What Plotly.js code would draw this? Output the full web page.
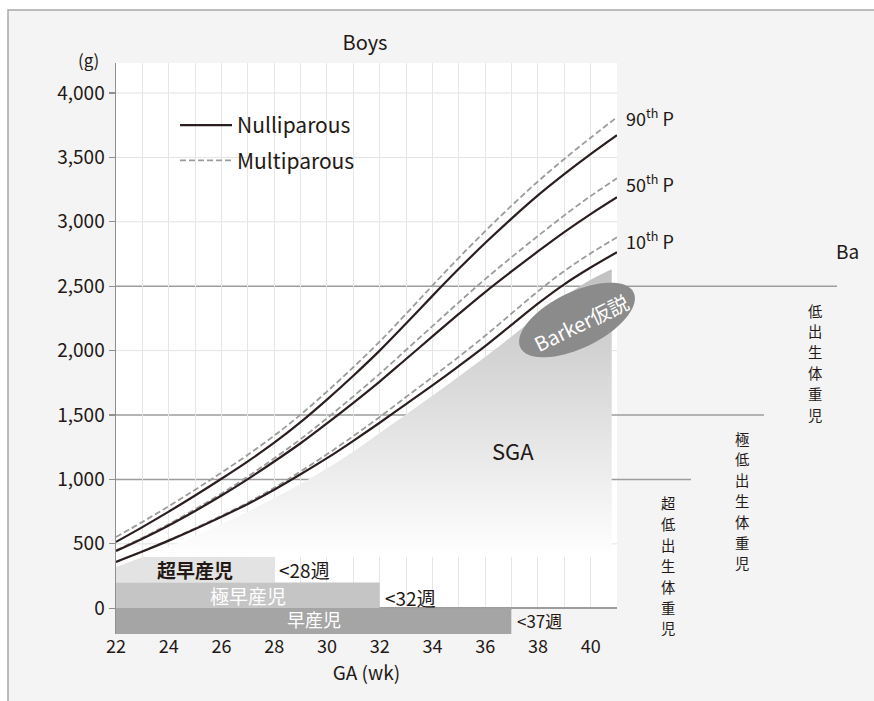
<!DOCTYPE html>
<html>
<head>
<meta charset="utf-8">
<script src="https://cdn.plot.ly/plotly-3.0.1.min.js"></script>
<style>html,body{margin:0;padding:0;background:#fff}#chart{width:874px;height:701px}</style>
</head>
<body>
<div id="chart"></div>
<script>
// ---------- data ----------
const weeks = [22,23,24,25,26,27,28,29,30,31,32,33,34,35,36,37,38,39,40,41];
const nulli90 = [515,630,750,875,1005,1140,1285,1445,1620,1805,2000,2210,2425,2635,2835,3025,3205,3370,3525,3672];
const nulli50 = [445,540,643,755,875,1003,1139,1281,1435,1595,1760,1935,2110,2285,2455,2615,2770,2920,3060,3191];
const nulli10 = [360,440,525,615,710,810,920,1040,1165,1300,1440,1585,1730,1880,2035,2200,2365,2515,2645,2764];
const multi90 = [553,670,792,920,1053,1191,1340,1503,1682,1871,2070,2285,2505,2721,2927,3125,3313,3488,3653,3812];
const multi50 = [450,547,653,768,891,1023,1164,1313,1475,1645,1820,2005,2190,2375,2555,2725,2890,3050,3200,3338];
const multi10 = [360,442,529,621,718,821,935,1062,1195,1337,1485,1640,1795,1952,2115,2288,2460,2618,2755,2880];

const sgaWeeks = [22,23,24,25,26,27,28,29,30,31,32,33,34,35,36,37,38,39,40,40.8];
const sgaTop   = [320,395,475,560,655,750,855,965,1085,1215,1360,1505,1650,1800,1950,2110,2270,2420,2550,2632];
const sgaFloor = 400;   // lower edge of the shaded SGA band (fades to white there)

const percentileLabels = ['90<sup>th</sup> P','50<sup>th</sup> P','10<sup>th</sup> P'];

const pretermLabels = ['超早産児','極早産児','早産児'];
const pretermEnd    = [28, 32, 37];
const pretermLow    = [200, 0, -200];
const pretermHigh   = [400, 200, 0];
const pretermLimitLabels = ['&lt;28週','&lt;32週','&lt;37週'];

const lbwLabels = ['低出生体重児','極低出生体重児','超低出生体重児'];
const lbwThresholds = [2500, 1500, 1000];

const yTicks = [0,500,1000,1500,2000,2500,3000,3500,4000];
const xTicks = [22,24,26,28,30,32,34,36,38,40];

// ---------- layout helpers (pixel geometry of the frame) ----------
const W = 874, H = 701;
const PL = 116, PR = 617, PT = 63, PB = 634;
const px2x = p => (p - PL) / (PR - PL);
const px2y = p => (PB - p) / (PB - PT);
const FONT = '"Noto Sans CJK JP", "Noto Sans", sans-serif';
const INK = '#231815';
const SOLID = '#2a1e1e';
const DASH = '#9c9c9c';

const traces = [];

// preterm bars
traces.push({
  type:'bar', orientation:'h',
  y: pretermLow.map((l,i)=> (l + pretermHigh[i]) / 2),
  x: pretermEnd.map(e => e - weeks[0]),
  base: weeks[0],
  width: pretermLow.map((l,i)=> pretermHigh[i] - l),
  marker:{color:['#e3e3e3','#c5c5c5','#a5a5a5'], line:{width:0}},
  hovertext: pretermLabels, hoverinfo:'text', showlegend:false
});

// SGA gradient band (floor trace + band filled down to it)
traces.push({
  type:'scatter', mode:'lines', x:[sgaWeeks[0], sgaWeeks[sgaWeeks.length-1]], y:[sgaFloor, sgaFloor],
  line:{width:0, color:'rgba(0,0,0,0)'}, hoverinfo:'skip', showlegend:false
});
traces.push({
  type:'scatter', mode:'lines', x:sgaWeeks, y:sgaTop, fill:'tonexty',
  line:{width:0, color:'rgba(0,0,0,0)', shape:'spline'},
  fillgradient:{type:'vertical', start:sgaFloor, stop:2650,
    colorscale:[[0,'#ffffff'],[1,'#c0c0c0']]},
  hoverinfo:'skip', showlegend:false
});

function curve(y, name, dashed, legend){
  return {
    type:'scatter', mode:'lines', x:weeks, y:y, name:name,
    line: dashed ? {color:DASH, width:1.8, dash:'6px,3px', shape:'spline'}
                 : {color:SOLID, width:2.2, shape:'spline'},
    showlegend: !!legend, legendgroup: dashed ? 'm' : 'n',
    legendrank: dashed ? 2 : 1,
    hoverinfo:'x+y+name'
  };
}
traces.push(curve(multi10,'Multiparous',true,false));
traces.push(curve(multi50,'Multiparous',true,false));
traces.push(curve(multi90,'Multiparous',true,true));
traces.push(curve(nulli10,'Nulliparous',false,false));
traces.push(curve(nulli50,'Nulliparous',false,false));
traces.push(curve(nulli90,'Nulliparous',false,true));

// ---------- shapes ----------
const shapes = [];
shapes.push({type:'rect', xref:'paper', yref:'paper', layer:'below',
  x0:px2x(8), x1:px2x(900), y0:px2y(720), y1:px2y(10),
  fillcolor:'#f4f4f4', line:{color:'#a8a8a8', width:1.5}});
shapes.push({type:'rect', xref:'paper', yref:'y', layer:'below',
  x0:0, x1:1, y0:0, y1:4233, fillcolor:'#ffffff', line:{width:0}});
yTicks.filter(v => v > 0 && lbwThresholds.indexOf(v) < 0).forEach(v => {
  shapes.push({type:'line', xref:'paper', yref:'y', layer:'below',
    x0:0, x1:1, y0:v, y1:v, line:{color:'#e3e3e3', width:1}});
});
const thresholdEndPx = [837, 764, 691];
lbwThresholds.forEach((v,i) => {
  shapes.push({type:'line', xref:'paper', yref:'y', layer:'below',
    x0:0, x1:px2x(thresholdEndPx[i]), y0:v, y1:v, line:{color:'#9d9d9d', width:1.5}});
});
shapes.push({type:'rect', xref:'x', yref:'y', layer:'above',
  x0:pretermEnd[2], x1:41, y0:-200, y1:-12, fillcolor:'#f4f4f4', line:{width:0}});
(function(){
  const cx = 577, cy = 320, a = 63, b = 28, phi = 26 * Math.PI / 180;
  let d = '';
  for (let k = 0; k <= 72; k++) {
    const t = k / 72 * 2 * Math.PI;
    const ex = a * Math.cos(t), ey = b * Math.sin(t);
    const px = cx + ex * Math.cos(phi) - ey * Math.sin(phi);
    const py = cy - (ex * Math.sin(phi) + ey * Math.cos(phi));
    d += (k === 0 ? 'M' : 'L') + px2x(px).toFixed(5) + ',' + px2y(py).toFixed(5);
  }
  d += 'Z';
  shapes.push({type:'path', xref:'paper', yref:'paper', layer:'above',
    path:d, fillcolor:'#8b8b8b', line:{width:0}});
})();

// ---------- annotations ----------
const ann = [];
function note(o){ return Object.assign({showarrow:false, xanchor:'center', yanchor:'middle'}, o); }
ann.push(note({xref:'paper', yref:'paper', x:px2x(88), y:px2y(59), text:'(g)', font:{size:17, color:INK}}));
[multi90, multi50, multi10].forEach((s,i) => {
  ann.push(note({xref:'x', yref:'y', x:41, y:s[s.length-1], xanchor:'left', xshift:7, yshift:[0,-5,-3][i],
    text:percentileLabels[i], font:{size:18, color:INK}}));
});
ann.push(note({xref:'paper', yref:'paper', x:px2x(834), y:px2y(250), xanchor:'left',
  text:'Ba', font:{size:19, color:INK}}));
ann.push(note({xref:'x', yref:'y', x:37.05, y:1227, text:'SGA', font:{size:22, color:INK}}));
ann.push(note({xref:'paper', yref:'paper', x:px2x(581), y:px2y(322), text:'Barker仮説',
  textangle:-26, font:{size:20, color:'#ffffff'}}));
const barTextColor = [INK, '#ffffff', '#ffffff'];
const barTextSize = [19, 19, 18];
pretermLabels.forEach((lab,i) => {
  const mid = (pretermLow[i] + pretermHigh[i]) / 2;
  ann.push(note({xref:'x', yref:'y', x:(weeks[0] + pretermEnd[i]) / 2, y:mid, yshift:[0,0,2][i],
    text: i === 0 ? '<b>' + lab + '</b>' : lab, font:{size:barTextSize[i], color:barTextColor[i]}}));
  ann.push(note({xref:'x', yref:'y', x:pretermEnd[i], y:mid, xanchor:'left', xshift:3, yshift:[0,-2,1][i],
    text:pretermLimitLabels[i], font:{size:[19,19,17][i], color:INK}}));
});
// vertical Japanese labels: one glyph per annotation, stacked
const lbwX = [815, 742, 668], lbwY0 = [310, 438, 503], lbwStep = 20.8;
lbwLabels.forEach((lab,i) => {
  Array.from(lab).forEach((ch,k) => {
    ann.push(note({xref:'paper', yref:'paper', x:px2x(lbwX[i]), y:px2y(lbwY0[i] + k * lbwStep),
      text:ch, font:{size:14.3, color:INK}}));
  });
});

const layout = {
  width:W, height:H,
  margin:{l:PL, r:W-PR, t:PT, b:H-PB, pad:0},
  paper_bgcolor:'#ffffff', plot_bgcolor:'rgba(0,0,0,0)',
  font:{family:FONT, color:INK, size:18},
  title:{text:'Boys', x:365/W, xanchor:'center', y:1-43/H, yanchor:'middle', xref:'container', yref:'container',
    font:{size:20, color:INK}},
  xaxis:{range:[22,41], tickvals:xTicks, showgrid:true, gridcolor:'#e6e6e6', gridwidth:1,
    minor:{dtick:1, tick0:22, showgrid:true, gridcolor:'#e6e6e6', gridwidth:1},
    zeroline:false, showline:false, ticks:'', tickfont:{size:18, color:INK},
    title:{text:'GA (wk)', font:{size:19, color:INK}, standoff:4}, fixedrange:true},
  yaxis:{range:[-200,4233], tickvals:yTicks, tickformat:',', showgrid:false,
    zeroline:true, zerolinecolor:'#9d9d9d', zerolinewidth:1.5,
    showline:true, linecolor:'#8f8f8f', linewidth:1.5,
    ticks:'outside', ticklen:6, tickcolor:'#8f8f8f', tickwidth:1.2,
    tickfont:{size:19, color:INK}, fixedrange:true},
  barmode:'overlay',
  showlegend:true,
  legend:{x:px2x(175), y:px2y(105), xanchor:'left', yanchor:'top', bgcolor:'rgba(0,0,0,0)',
    borderwidth:0, font:{size:21, color:INK}, tracegroupgap:5, itemwidth:52, traceorder:'grouped'},
  shapes:shapes,
  annotations:ann
};

Plotly.newPlot('chart', traces, layout, {displayModeBar:false, staticPlot:true});
</script>
</body>
</html>
